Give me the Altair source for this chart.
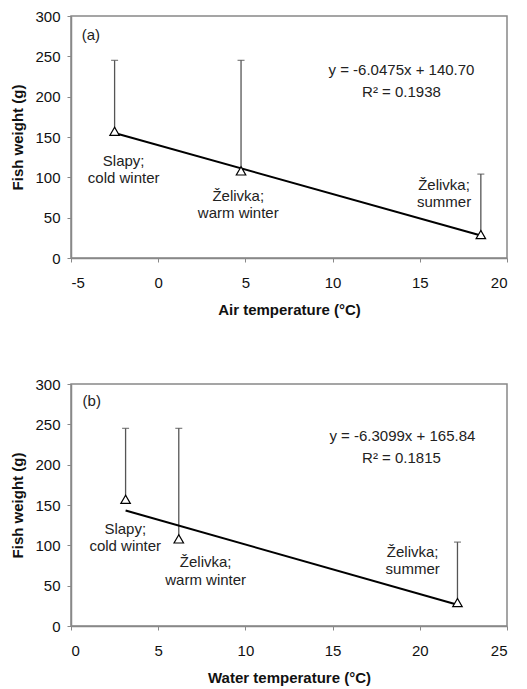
import altair as alt
import pandas as pd

FONT = "Liberation Sans"

# ---- data ----
groups = ["Slapy; cold winter", "Želivka; warm winter", "Želivka; summer"]
air_temp = [-2.5, 4.75, 18.5]          # panel (a) x
water_temp = [3.13, 6.18, 22.16]       # panel (b) x
weight_mean = [157, 108, 29]           # fish weight (g)
weight_upper = [245, 245, 104]         # upper error bar end (g)

# annotation lines (data coordinates)
lab_text = ["Slapy;", "cold winter", "Želivka;", "warm winter", "Želivka;", "summer"]
lab_a_x = [-1.98, -1.98, 4.59, 4.59, 16.39, 16.39]
lab_a_y = [120, 99, 77, 56, 91, 70]
lab_b_x = [3.11, 3.11, 7.72, 7.72, 19.59, 19.59]
lab_b_y = [120.4, 99.6, 78.8, 57.3, 92.2, 70.6]

eq_a_text = ["y = -6.0475x + 140.70", "R² = 0.1938", "(a)"]
eq_a_x = [13.95, 13.95, -3.86]
eq_a_y = [232.6, 205.7, 276.7]
eq_b_text = ["y = -6.3099x + 165.84", "R² = 0.1815", "(b)"]
eq_b_x = [19.0, 18.95, 1.19]
eq_b_y = [235, 208.8, 279]


def panel(xvals, xdom, xtitle, lx, ly, ex, ey, etext):
    df = pd.DataFrame({"group": groups, "x": xvals, "y": weight_mean, "hi": weight_upper})
    xs = alt.Scale(domain=xdom, nice=False, zero=False)
    ys = alt.Scale(domain=[0, 300], nice=False)
    X = alt.X("x:Q", scale=xs, title=xtitle,
              axis=alt.Axis(values=list(range(xdom[0], xdom[1] + 1, 5)),
                            labelExpr="'' + datum.value"))
    Y = alt.Y("y:Q", scale=ys, title="Fish weight (g)",
              axis=alt.Axis(values=list(range(0, 301, 50))))
    Yhi = alt.Y("hi:Q", scale=ys, title="Fish weight (g)")
    base = alt.Chart(df)
    err = base.mark_rule(color="#555", strokeWidth=1.3).encode(x=X, y=Y, y2="hi:Q")
    cap = base.mark_tick(orient="horizontal", size=7, thickness=1.3, color="#555").encode(x=X, y=Yhi)
    trend = base.transform_regression("x", "y").mark_line(color="black", strokeWidth=2).encode(x=X, y=Y)
    pts = base.mark_point(shape="triangle-up", filled=True, fill="white", stroke="black",
                          fillOpacity=1, strokeWidth=1.2, size=90, opacity=1).encode(x=X, y=Y)
    labdf = pd.DataFrame({"x": lx, "y": ly, "t": lab_text})
    labs = alt.Chart(labdf).mark_text(font=FONT, fontSize=15, color="#222").encode(
        x=X, y=Y, text="t:N")
    eqdf = pd.DataFrame({"x": ex, "y": ey, "t": etext})
    eqs = alt.Chart(eqdf).mark_text(font=FONT, fontSize=15, color="#222").encode(
        x=X, y=Y, text="t:N")
    return alt.layer(err, cap, trend, pts, labs, eqs).properties(width=436, height=242)


top = panel(air_temp, [-5, 20], "Air temperature (°C)", lab_a_x, lab_a_y, eq_a_x, eq_a_y, eq_a_text)
bottom = panel(water_temp, [0, 25], "Water temperature (°C)", lab_b_x, lab_b_y, eq_b_x, eq_b_y, eq_b_text)

chart = alt.vconcat(top, bottom, spacing=58).properties(
    padding={"left": 2, "top": 0, "right": 5, "bottom": 5}
).configure_view(
    stroke="#888", strokeWidth=1.5
).configure_axis(
    labelFont=FONT, labelFontSize=15, labelColor="#111",
    titleFont=FONT, titleFontSize=15, titleFontWeight="bold", titleColor="#111",
    grid=False, domainColor="#888", domainWidth=1.5, tickColor="#888", tickSize=4,
).configure_axisX(
    labelPadding=13, titlePadding=12
).configure_axisY(
    labelPadding=7, titlePadding=9
)

chart.save("out.html", embed_options={"renderer": "svg", "actions": False})
